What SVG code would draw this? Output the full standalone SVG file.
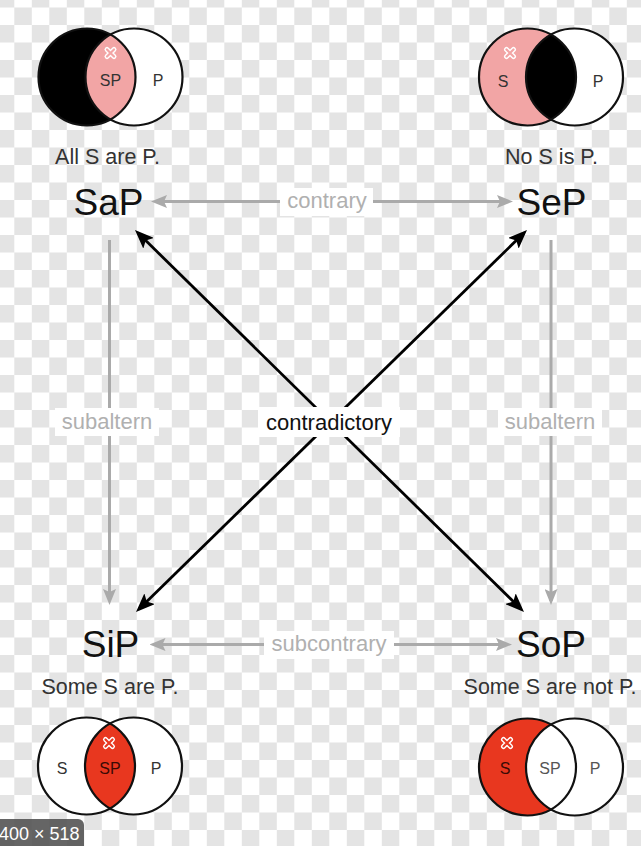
<svg xmlns="http://www.w3.org/2000/svg" width="641" height="846" viewBox="0 0 641 846">
<defs>
<marker id="gh" markerUnits="userSpaceOnUse" viewBox="0 0 16 13" markerWidth="16" markerHeight="13" refX="12" refY="6.5" orient="auto-start-reverse">
<path d="M0,0 L16,6.5 L0,13 L3,6.5Z" fill="#aaaaaa"/>
</marker>
<marker id="bh" markerUnits="userSpaceOnUse" viewBox="0 0 19 15" markerWidth="19" markerHeight="15" refX="15" refY="7.5" orient="auto-start-reverse">
<path d="M0,0 L19,7.5 L0,15 L4,7.5Z" fill="#000000"/>
</marker>
<path id="lens" d="M0,-42.43 A48.5,48.5 0 0 1 0,42.43 A48.5,48.5 0 0 1 0,-42.43Z"/>
</defs>
<style>
text { font-family: "Liberation Sans", Arial, sans-serif; }
.big { font-size: 37px; fill: #111; text-anchor: middle; }
.stmt { font-size: 21.5px; fill: #333; text-anchor: middle; }
.glbl { font-size: 22px; fill: #b0b0b0; text-anchor: middle; }
.clbl { font-size: 22px; fill: #111; text-anchor: middle; }
.vt { font-size: 16px; fill: #333; text-anchor: middle; }
.ring { fill: none; stroke: #111; stroke-width: 2.2; }
.garrow { stroke: #aaaaaa; stroke-width: 3; fill: none; }
.barrow { stroke: #000; stroke-width: 2.8; fill: none; }
.lblbg { fill: #ffffff; }
.xo { stroke: #ffffff; stroke-width: 5; stroke-linecap: round; fill: none; }
.badge-t { font-size: 18px; fill: #ffffff; }
.checker { fill: none; stroke: #e4e4e4; stroke-width: 17.5; stroke-dasharray: 17.5 17.5; }
</style>
<rect x="0" y="0" width="641" height="846" fill="#ffffff"/>
<path class="checker" d="M-3.2,-1.25H660 M14.3,16.25H660 M-3.2,33.75H660 M14.3,51.25H660 M-3.2,68.75H660 M14.3,86.25H660 M-3.2,103.75H660 M14.3,121.25H660 M-3.2,138.75H660 M14.3,156.25H660 M-3.2,173.75H660 M14.3,191.25H660 M-3.2,208.75H660 M14.3,226.25H660 M-3.2,243.75H660 M14.3,261.25H660 M-3.2,278.75H660 M14.3,296.25H660 M-3.2,313.75H660 M14.3,331.25H660 M-3.2,348.75H660 M14.3,366.25H660 M-3.2,383.75H660 M14.3,401.25H660 M-3.2,418.75H660 M14.3,436.25H660 M-3.2,453.75H660 M14.3,471.25H660 M-3.2,488.75H660 M14.3,506.25H660 M-3.2,523.75H660 M14.3,541.25H660 M-3.2,558.75H660 M14.3,576.25H660 M-3.2,593.75H660 M14.3,611.25H660 M-3.2,628.75H660 M14.3,646.25H660 M-3.2,663.75H660 M14.3,681.25H660 M-3.2,698.75H660 M14.3,716.25H660 M-3.2,733.75H660 M14.3,751.25H660 M-3.2,768.75H660 M14.3,786.25H660 M-3.2,803.75H660 M14.3,821.25H660 M-3.2,838.75H660 M14.3,856.25H660"/>

<g id="connectors">
<line class="garrow" x1="155" y1="201.5" x2="509" y2="201.5" marker-start="url(#gh)" marker-end="url(#gh)"/>
<line class="garrow" x1="153.5" y1="644.5" x2="508" y2="644.5" marker-start="url(#gh)" marker-end="url(#gh)"/>
<line class="garrow" x1="109.5" y1="240" x2="109.5" y2="601" marker-end="url(#gh)"/>
<line class="garrow" x1="551" y1="240" x2="551" y2="601" marker-end="url(#gh)"/>
<line class="barrow" x1="137.85" y1="232.8" x2="521.15" y2="609.2" marker-start="url(#bh)" marker-end="url(#bh)"/>
<line class="barrow" x1="524.14" y1="232.8" x2="138.86" y2="609.2" marker-start="url(#bh)" marker-end="url(#bh)"/>
<rect class="lblbg" x="280" y="188" width="93" height="28"/>
<text class="glbl" x="327" y="208">contrary</text>
<rect class="lblbg" x="264" y="631" width="130" height="28"/>
<text class="glbl" x="329" y="651">subcontrary</text>
<rect class="lblbg" x="55" y="408" width="104" height="28"/>
<text class="glbl" x="107" y="429">subaltern</text>
<rect class="lblbg" x="498" y="408" width="104" height="28"/>
<text class="glbl" x="550" y="429">subaltern</text>
<rect class="lblbg" x="258" y="407" width="142" height="30"/>
<text class="clbl" x="329" y="429.5">contradictory</text>
</g>

<g id="SaP">
<g transform="translate(110.5,77)">
<circle cx="23.5" cy="0" r="48.5" fill="#ffffff"/>
<circle cx="-23.5" cy="0" r="48.5" fill="#000000"/>
<use href="#lens" fill="#f2a5a5"/>
<circle class="ring" cx="-23.5" cy="0" r="48.5"/>
<circle class="ring" cx="23.5" cy="0" r="48.5"/>
<g transform="translate(0,-24)">
<path class="xo" d="M-3.5,-3.5 L3.5,3.5 M3.5,-3.5 L-3.5,3.5"/>
<path d="M-3.5,-3.5 L3.5,3.5 M3.5,-3.5 L-3.5,3.5" stroke="#f2a5a5" stroke-width="2.2" stroke-linecap="round"/>
</g>
<text class="vt" x="0" y="9">SP</text>
<text class="vt" x="47.5" y="9">P</text>
</g>
<text class="stmt" x="107.5" y="163.5">All S are P.</text>
<text class="big" x="108.5" y="215">SaP</text>
</g>

<g id="SeP">
<g transform="translate(551,77)">
<circle cx="23.5" cy="0" r="48.5" fill="#ffffff"/>
<circle cx="-23.5" cy="0" r="48.5" fill="#f2a5a5"/>
<use href="#lens" fill="#000000"/>
<circle class="ring" cx="-23.5" cy="0" r="48.5"/>
<circle class="ring" cx="23.5" cy="0" r="48.5"/>
<g transform="translate(-41,-24)">
<path class="xo" d="M-3.5,-3.5 L3.5,3.5 M3.5,-3.5 L-3.5,3.5"/>
<path d="M-3.5,-3.5 L3.5,3.5 M3.5,-3.5 L-3.5,3.5" stroke="#f2a5a5" stroke-width="2.2" stroke-linecap="round"/>
</g>
<text class="vt" x="-48" y="10">S</text>
<text class="vt" x="47" y="10">P</text>
</g>
<text class="stmt" x="551.5" y="163.5">No S is P.</text>
<text class="big" x="551.5" y="215">SeP</text>
</g>

<g id="SiP">
<text class="big" x="110.5" y="657">SiP</text>
<text class="stmt" x="110" y="694">Some S are P.</text>
<g transform="translate(110,766)">
<circle cx="23.5" cy="0" r="48.5" fill="#ffffff"/>
<circle cx="-23.5" cy="0" r="48.5" fill="#ffffff"/>
<use href="#lens" fill="#e8371f"/>
<circle class="ring" cx="-23.5" cy="0" r="48.5"/>
<circle class="ring" cx="23.5" cy="0" r="48.5"/>
<g transform="translate(-1,-23)">
<path class="xo" d="M-3.5,-3.5 L3.5,3.5 M3.5,-3.5 L-3.5,3.5"/>
<path d="M-3.5,-3.5 L3.5,3.5 M3.5,-3.5 L-3.5,3.5" stroke="#e8371f" stroke-width="2.2" stroke-linecap="round"/>
</g>
<text class="vt" x="-48" y="8">S</text>
<text class="vt" x="0" y="8" style="fill:#3a0a05">SP</text>
<text class="vt" x="46" y="8">P</text>
</g>
</g>

<g id="SoP">
<text class="big" x="551" y="657">SoP</text>
<text class="stmt" x="550" y="694">Some S are not P.</text>
<g transform="translate(551,767)">
<circle cx="23.5" cy="0" r="48.5" fill="#ffffff"/>
<circle cx="-23.5" cy="0" r="48.5" fill="#e8371f"/>
<use href="#lens" fill="#ffffff"/>
<circle class="ring" cx="-23.5" cy="0" r="48.5"/>
<circle class="ring" cx="23.5" cy="0" r="48.5"/>
<g transform="translate(-44,-24)">
<path class="xo" d="M-3.5,-3.5 L3.5,3.5 M3.5,-3.5 L-3.5,3.5"/>
<path d="M-3.5,-3.5 L3.5,3.5 M3.5,-3.5 L-3.5,3.5" stroke="#e8371f" stroke-width="2.2" stroke-linecap="round"/>
</g>
<text class="vt" x="-46" y="7" style="fill:#3a0a05">S</text>
<text class="vt" x="-1" y="7" style="fill:#555">SP</text>
<text class="vt" x="44" y="7" style="fill:#555">P</text>
</g>
</g>

<g id="badge">
<rect x="-8" y="819" width="92" height="40" rx="6" fill="#505050" fill-opacity="0.88"/>
<text class="badge-t" x="-1" y="840">400 × 518</text>
</g>
</svg>
